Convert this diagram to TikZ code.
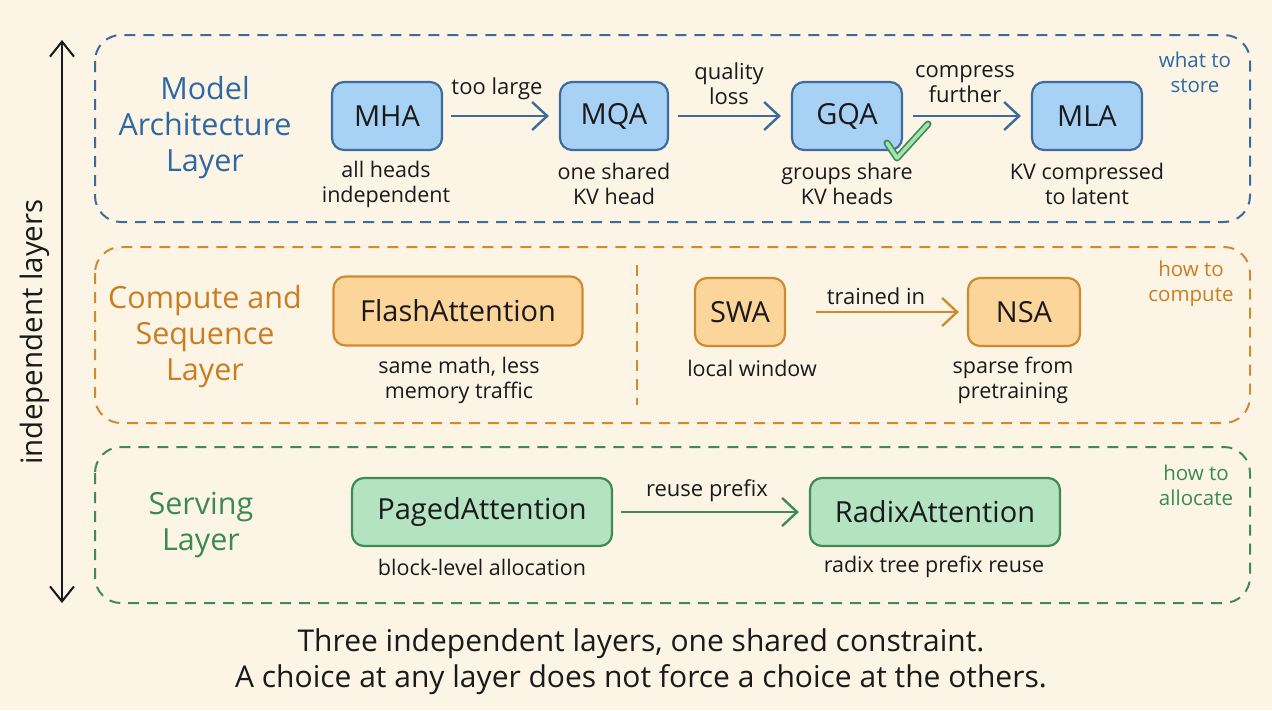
\documentclass[tikz,border=0pt]{standalone}
\usepackage{fontspec}
\setmainfont{Open Sans}
\usetikzlibrary{arrows.meta}
\definecolor{bgc}{HTML}{FCF5E6}
\definecolor{bluet}{HTML}{2F68A3}
\definecolor{blueb}{HTML}{3D6C9C}
\definecolor{bluef}{HTML}{A8D1F6}
\definecolor{oranget}{HTML}{CB7D22}
\definecolor{orangeb}{HTML}{D08A30}
\definecolor{orangef}{HTML}{FCD59B}
\definecolor{greent}{HTML}{3B8A56}
\definecolor{greenb}{HTML}{3F8A58}
\definecolor{greenf}{HTML}{B3E3C0}
\definecolor{checkf}{HTML}{A4E5AE}
\definecolor{ink}{HTML}{1A1A1A}
\tikzset{
  frame/.style={line width=2pt, dash pattern=on 11pt off 8pt, rounded corners=26pt},
  boxst/.style={line width=2.2pt, rounded corners=12pt, minimum height=68pt, text=ink,
     font=\fontsize{29}{32}\selectfont, inner sep=0pt},
  sub/.style={text=ink, font=\fontsize{21.5}{25}\selectfont, align=center, inner sep=0pt},
  ttl/.style={font=\fontsize{30.5}{36}\selectfont, align=center, inner sep=0pt},
  note/.style={font=\fontsize{20.5}{25}\selectfont, align=center, inner sep=0pt},
  lbl/.style={text=ink, font=\fontsize{22}{25}\selectfont, align=center, inner sep=0pt},
  conn/.style={line width=2.4pt, -{Straight Barb[length=15pt,width=28pt,line width=2.4pt]}},
}
\begin{document}
\begin{tikzpicture}[x=1pt,y=-1pt]
\useasboundingbox (0,0) rectangle (1272,710);
\fill[bgc] (0,0) rectangle (1272,710);

% vertical arrow
\coordinate (vtop) at (62,40);
\coordinate (vbot) at (62,603);
\draw[ink, line width=2pt, {Straight Barb[length=15pt,width=24pt,line width=2pt]}-{Straight Barb[length=15pt,width=24pt,line width=2pt]}] (vtop) -- (vbot);
\node[rotate=90, text=ink, font=\fontsize{29.5}{32}\selectfont, inner sep=0pt] (indep) at (35,332) {independent layers};

% frames
\draw[frame, blueb] (95,35) rectangle (1250,222);
\draw[frame, orangeb] (95,247) rectangle (1250,423);
\draw[frame, greenb] (95,447) rectangle (1250,603);
\coordinate (divt) at (637,265);
\coordinate (divb) at (637,405);
\draw[orangeb, line width=2pt, dash pattern=on 11pt off 8pt] (divt) -- (divb);

% ---------- Model Architecture Layer
\node[ttl, text=bluet] (t1) at (205,128) {Model\\Architecture\\Layer};
\node[note, text=bluet] (n1) at (1195,72) {what to\\store};

\node[boxst, draw=blueb, fill=bluef, minimum width=110pt] (MHA) at (387,116) {MHA};
\node[boxst, draw=blueb, fill=bluef, minimum width=108pt] (MQA) at (614,116) {MQA};
\node[boxst, draw=blueb, fill=bluef, minimum width=110pt] (GQA) at (847,116) {GQA};
\node[boxst, draw=blueb, fill=bluef, minimum width=110pt] (MLA) at (1087,116) {MLA};

\node[sub] (MHAs) at (386,184) {all heads\\independent};
\node[sub] (MQAs) at (614,184) {one shared\\KV head};
\node[sub] (GQAs) at (847,184) {groups share\\KV heads};
\node[sub] (MLAs) at (1087,184) {KV compressed\\to latent};

\draw[conn, blueb, shorten <=8pt, shorten >=10pt] (MHA) -- (MQA);
\draw[conn, blueb, shorten <=9pt, shorten >=10pt] (MQA) -- (GQA);
\draw[conn, blueb, shorten <=10pt, shorten >=10pt] (GQA) -- (MLA);
\node[lbl] (l1) at (497,89) {too large};
\node[lbl] (l2) at (729,84) {quality\\loss};
\node[lbl] (l3) at (965,84) {compress\\further};

% check mark
\coordinate (c1) at (887,143);
\coordinate (c2) at (897,158);
\coordinate (c3) at (928,124);
\draw[greenb, line width=7pt, line join=round, line cap=round] (c1) -- (c2) -- (c3);
\draw[checkf, line width=3.6pt, line join=round, line cap=round] (c1) -- (c2) -- (c3);

% ---------- Compute and Sequence Layer
\node[ttl, text=oranget] (t2) at (205,337) {Compute and\\Sequence\\Layer};
\node[note, text=oranget] (n2) at (1191,284) {how to\\compute};

\node[boxst, draw=orangeb, fill=orangef, minimum width=249pt, minimum height=69pt] (FA) at (458,311) {FlashAttention};
\node[boxst, draw=orangeb, fill=orangef, minimum width=90pt] (SWA) at (740,312) {SWA};
\node[boxst, draw=orangeb, fill=orangef, minimum width=112pt] (NSA) at (1024,312) {NSA};

\node[sub] (FAs) at (459,380) {same math, less\\memory traffic};
\node[sub] (SWAs) at (752,368) {local window};
\node[sub] (NSAs) at (1013,380) {sparse from\\pretraining};

\draw[conn, orangeb, shorten <=30pt, shorten >=8pt] (SWA) -- (NSA);
\node[lbl] (l4) at (876,296) {trained in};

% ---------- Serving Layer
\node[ttl, text=greent] (t3) at (201,525) {Serving\\Layer};
\node[note, text=greent] (n3) at (1196,485) {how to\\allocate};

\node[boxst, draw=greenb, fill=greenf, minimum width=260pt] (PA) at (482,512) {PagedAttention};
\node[boxst, draw=greenb, fill=greenf, minimum width=250pt] (RA) at (935,512) {RadixAttention};

\node[sub] (PAs) at (482,567) {block-level allocation};
\node[sub] (RAs) at (934,567) {radix tree prefix reuse};

\draw[conn, greenb, shorten <=8pt, shorten >=10pt] (PA) -- (RA);
\node[lbl] (l5) at (707,491) {reuse prefix};

% ---------- bottom text
\node[text=ink, font=\fontsize{30}{36}\selectfont, align=center, inner sep=0pt] (foot) at (641,662)
  {Three independent layers, one shared constraint.\\A choice at any layer does not force a choice at the others.};
\end{tikzpicture}
\end{document}
